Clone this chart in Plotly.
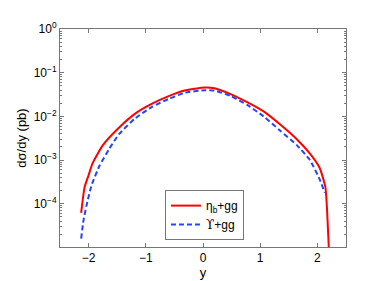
import plotly.graph_objects as go

# eta_b + gg (red solid)
eta_y = [-2.13, -2.07, -2.0, -1.93, -1.75, -1.47, -1.18, -0.89, -0.60, -0.32, 0.03,
         0.2, 0.49, 0.78, 1.06, 1.35, 1.64, 1.87, 2.04, 2.14, 2.17, 2.21]
eta_val = [6.2e-5, 2.4e-4, 4.5e-4, 8.5e-4, 2.2e-3, 5.5e-3, 1.17e-2, 1.95e-2, 2.9e-2, 3.9e-2, 4.57e-2,
           4.4e-2, 3.2e-2, 2.1e-2, 1.3e-2, 6.5e-3, 3.0e-3, 1.4e-3, 6.6e-4, 2.4e-4, 6.8e-5, 5e-6]

# Upsilon + gg (blue dashed)
ups_y = [-2.13, -2.09, -2.04, -1.95, -1.81, -1.64, -1.47, -1.18, -0.89, -0.60, -0.32, 0.03,
         0.2, 0.49, 0.78, 1.06, 1.35, 1.64, 1.87, 2.04, 2.13]
ups_val = [1.6e-5, 4.1e-5, 8.7e-5, 2.6e-4, 7.4e-4, 1.8e-3, 3.9e-3, 9.1e-3, 1.66e-2, 2.5e-2, 3.47e-2, 3.98e-2,
           3.9e-2, 2.9e-2, 1.8e-2, 1.0e-2, 4.7e-3, 2.2e-3, 1.0e-3, 3.6e-4, 1.8e-4]

y_tickvals = [1, 1e-1, 1e-2, 1e-3, 1e-4]
y_ticktext = ["10<sup>0</sup>", "10<sup>−1</sup>", "10<sup>−2</sup>", "10<sup>−3</sup>", "10<sup>−4</sup>"]
x_tickvals = [-2, -1, 0, 1, 2]

fig = go.Figure()
fig.add_trace(go.Scatter(x=eta_y, y=eta_val, mode="lines", name="η<sub>b</sub>+gg",
                         line=dict(color="#ff0000", width=2, shape="spline", smoothing=0.5)))
fig.add_trace(go.Scatter(x=ups_y, y=ups_val, mode="lines",
                         name="<span style='font-family:DejaVu Serif'>ϒ</span>+gg",
                         line=dict(color="#2244ff", width=2, dash="5px,3px",
                                   shape="spline", smoothing=0.5)))

axis_color = "#777777"
fig.update_layout(
    width=374, height=281,
    margin=dict(l=52, r=36, t=21, b=34),
    paper_bgcolor="white", plot_bgcolor="white",
    font=dict(family="Liberation Sans, Arial, sans-serif", size=12, color="black"),
    showlegend=True,
    legend=dict(x=0.367, y=0.261, xanchor="left", yanchor="top",
                bordercolor=axis_color, borderwidth=1, bgcolor="white",
                font=dict(size=12), tracegroupgap=0, itemwidth=30),
    xaxis=dict(range=[-2.5, 2.5], tickvals=x_tickvals, ticks="inside", ticklen=4,
               showline=True, linecolor=axis_color, linewidth=1, mirror="ticks",
               tickcolor=axis_color, showgrid=False, zeroline=False,
               title=dict(text="y", standoff=2, font=dict(size=13))),
    yaxis=dict(type="log", range=[-4.99, 0], tickvals=y_tickvals, ticktext=y_ticktext,
               ticks="inside", ticklen=4,
               showline=True, linecolor=axis_color, linewidth=1, mirror="ticks",
               tickcolor=axis_color, showgrid=False, zeroline=False,
               minor=dict(ticks="inside", ticklen=2, tickcolor=axis_color, showgrid=False,
                          tickvals=[m * 10 ** e for e in range(-5, 0) for m in range(2, 10)]),
               title=dict(text="dσ/dy (pb)", standoff=4, font=dict(size=13))),
)

fig.write_html("out.html")
